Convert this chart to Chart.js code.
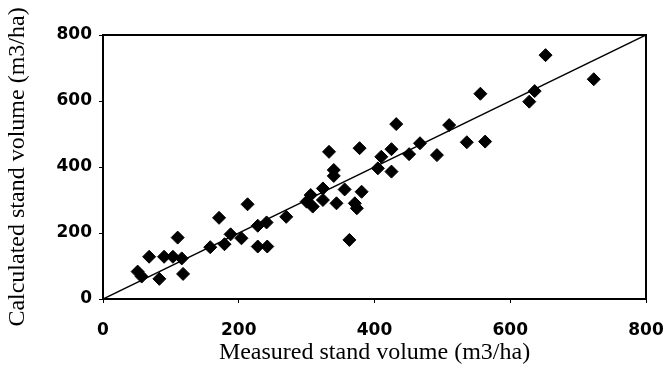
<!DOCTYPE html>
<html>
<head>
<meta charset="utf-8">
<title>Measured vs calculated stand volume</title>
<script src="https://cdn.jsdelivr.net/npm/chart.js@4.4.1/dist/chart.umd.min.js"></script>
<style>
  html, body { margin: 0; padding: 0; background: #fff; }
  #wrap { width: 668px; height: 389px; }
</style>
</head>
<body>
<div id="wrap"><canvas id="volChart" width="668" height="389"></canvas></div>
<script>
// plot data (m3/ha)
const measured = [51, 57, 68, 83, 90, 103, 116, 110, 118, 158, 171, 179, 188, 204, 213, 228, 241, 228, 242, 270,
  300, 306, 309, 324, 324, 333, 340, 340, 344, 356, 371, 374, 381, 363, 378, 405, 410, 425, 425, 432,
  451, 467, 492, 510, 536, 556, 563, 628, 636, 652, 723];
const calculated = [83, 68, 128, 61, 128, 128, 123, 186, 76, 157, 246, 166, 196, 184, 287, 222, 232, 159, 159, 249,
  295, 315, 280, 300, 335, 446, 391, 373, 290, 332, 290, 275, 325, 179, 457, 396, 431, 454, 386, 530,
  439, 472, 436, 527, 475, 622, 477, 598, 630, 739, 666];

// 1:1 reference line
const lineX = [0, 800];
const lineY = [0, 800];

const axisTicks = [0, 200, 400, 600, 800];

const points = measured.map((m, i) => ({ x: m, y: calculated[i] }));
const oneToOne = lineX.map((v, i) => ({ x: v, y: lineY[i] }));

const tickFont = { family: 'DejaVu Sans', size: 17, weight: 'bold' };
const titleFont = { family: 'Liberation Serif', size: 24 };

// closes the frame on top and right of the plot area
const frame = {
  id: 'frame',
  afterDraw(chart) {
    const { ctx, chartArea: a } = chart;
    ctx.save();
    ctx.strokeStyle = '#000';
    ctx.lineWidth = 2;
    ctx.beginPath();
    ctx.moveTo(a.left, a.top);
    ctx.lineTo(a.right, a.top);
    ctx.lineTo(a.right, a.bottom);
    ctx.stroke();
    ctx.restore();
  }
};

new Chart(document.getElementById('volChart'), {
  type: 'scatter',
  data: {
    datasets: [
      {
        label: 'stands',
        data: points,
        pointStyle: 'rectRot',
        pointRadius: 6.5,
        pointHoverRadius: 6.5,
        backgroundColor: '#000',
        borderColor: '#000',
        borderWidth: 1
      },
      {
        type: 'line',
        label: '1:1',
        data: oneToOne,
        borderColor: '#000',
        borderWidth: 1.5,
        pointRadius: 0,
        fill: false
      }
    ]
  },
  options: {
    responsive: false,
    animation: false,
    layout: { padding: { top: 35, right: 22, left: 0, bottom: 0 } },
    plugins: { legend: { display: false }, tooltip: { enabled: false } },
    scales: {
      x: {
        type: 'linear',
        min: 0,
        max: 800,
        afterBuildTicks: s => { s.ticks = axisTicks.map(v => ({ value: v })); },
        afterFit: s => { s.height = 90; s.paddingLeft = 0; s.paddingRight = 0; },
        border: { color: '#000', width: 2 },
        grid: { drawOnChartArea: false, color: '#000', tickLength: 4, tickWidth: 1 },
        ticks: { color: '#000', font: tickFont, padding: 17, maxRotation: 0 },
        title: {
          display: true,
          text: 'Measured stand volume (m3/ha)',
          color: '#000',
          font: titleFont,
          padding: { top: 0, bottom: 22 }
        }
      },
      y: {
        type: 'linear',
        min: 0,
        max: 800,
        afterBuildTicks: s => { s.ticks = axisTicks.map(v => ({ value: v })); },
        afterFit: s => { s.width = 103; s.paddingTop = 0; s.paddingBottom = 0; },
        border: { color: '#000', width: 2 },
        grid: { drawOnChartArea: false, color: '#000', tickLength: 4, tickWidth: 1 },
        ticks: { color: '#000', font: tickFont, padding: 7 },
        title: {
          display: true,
          text: 'Calculated stand volume (m3/ha)',
          color: '#000',
          font: titleFont,
          padding: { top: 3, bottom: 0 }
        }
      }
    }
  },
  plugins: [frame]
});
</script>
</body>
</html>
